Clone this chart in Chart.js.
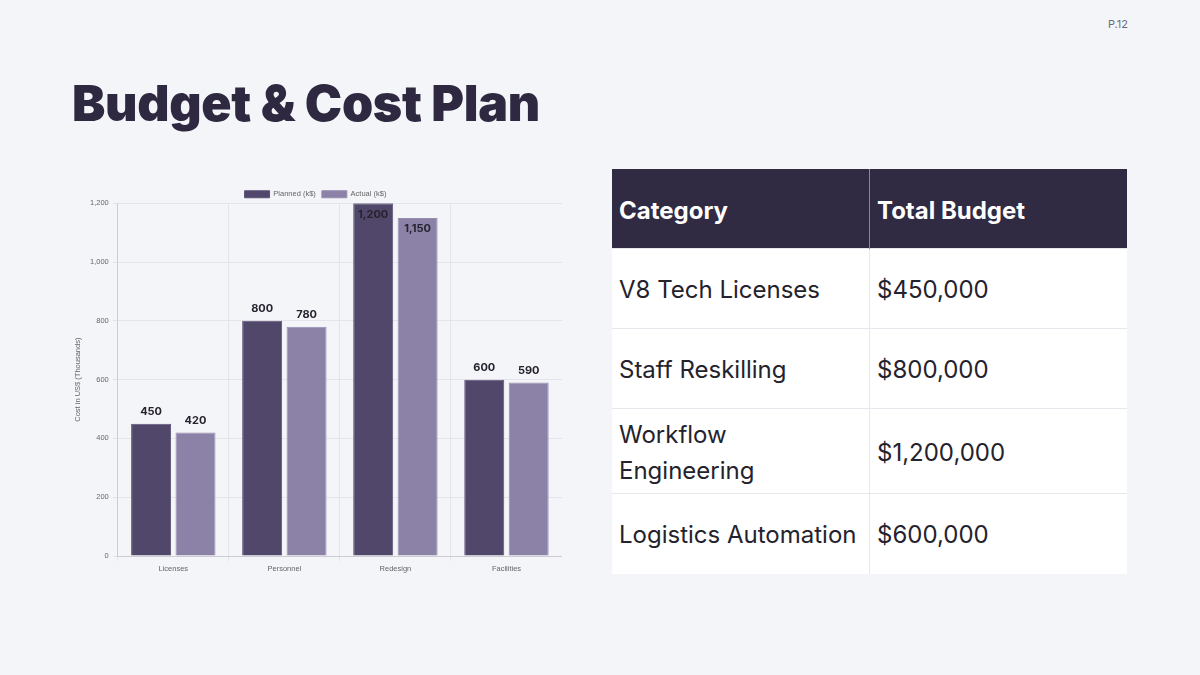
<!DOCTYPE html>
<html>
<head>
<meta charset="utf-8">
<script src="https://cdn.jsdelivr.net/npm/chart.js@4.4.1/dist/chart.umd.min.js"></script>
<style>
  html, body { margin:0; padding:0; }
  body { width:1200px; height:675px; background:#f4f5f9; position:relative; overflow:hidden; font-family:Inter, "Noto Sans", sans-serif; }
  #pg { position:absolute; right:72px; top:17px; font-size:11px; color:#6b6b78; font-family:Inter, sans-serif; }
  h1 { position:absolute; left:72px; top:73px; margin:0; font-family:Inter, sans-serif; font-weight:900; font-size:50px; letter-spacing:-0.3px; color:#2e2940; line-height:1.2; }
  #chartBox { position:absolute; left:69px; top:182px; width:493px; height:394px; }
  table { position:absolute; left:612px; top:169px; width:515px; border-collapse:collapse; font-family:Inter, sans-serif; }
  th { background:#302a43; color:#fff; font-weight:700; font-size:24px; text-align:left; padding:3px 7px 0 7px; height:76px; }
  th + th { border-left:1px solid #8b86a0; }
  td { background:#fff; color:#24222c; font-size:24px; padding:3px 7px 0 7px; line-height:36px; border-top:1px solid #e6e8ee; }
  td + td { border-left:1px solid #e6e8ee; }
  td.c1 { width:243px; }
</style>
</head>
<body>
<div id="pg">P.12</div>
<h1>Budget &amp; Cost Plan</h1>
<div id="chartBox"><canvas id="c"></canvas></div>
<table id="tbl"></table>
<script>
const categories = ["Licenses", "Personnel", "Redesign", "Facilities"];
const plannedValues = [450, 800, 1200, 600];
const actualValues = [420, 780, 1150, 590];
const seriesLabels = ["Planned (k$)", "Actual (k$)"];

const tableHeaders = ["Category", "Total Budget"];
const tableCategories = ["V8 Tech Licenses", "Staff Reskilling", "Workflow\nEngineering", "Logistics Automation"];
const tableBudgets = ["$450,000", "$800,000", "$1,200,000", "$600,000"];
const rowHeights = [80, 80, 85, 80];

// build table
const tbl = document.getElementById('tbl');
let html = '<tr>' + tableHeaders.map(h => '<th>' + h + '</th>').join('') + '</tr>';
tableCategories.forEach((c, i) => {
  html += '<tr style="height:' + rowHeights[i] + 'px"><td class="c1">' + c.replace('\n', '<br>') + '</td><td>' + tableBudgets[i] + '</td></tr>';
});
tbl.innerHTML = html;

const valueLabels = {
  id: 'valueLabels',
  afterDatasetsDraw(chart) {
    const ctx = chart.ctx;
    const top = chart.chartArea.top;
    ctx.save();
    ctx.font = 'bold 11px Inter, sans-serif';
    ctx.fillStyle = '#26232f';
    ctx.textAlign = 'center';
    ctx.textBaseline = 'middle';
    chart.data.datasets.forEach((ds, di) => {
      chart.getDatasetMeta(di).data.forEach((bar, i) => {
        const v = ds.data[i];
        let y = bar.y - 12;
        if (y - 7 < top) y = bar.y + 11;
        ctx.fillText(v.toLocaleString('en-US'), bar.x, y);
      });
    });
    ctx.restore();
  }
};

Chart.defaults.font.family = '"Liberation Sans", Arial, sans-serif';
Chart.defaults.font.size = 7.5;
Chart.defaults.color = '#666';

new Chart(document.getElementById('c'), {
  type: 'bar',
  data: {
    labels: categories,
    datasets: [
      { label: seriesLabels[0], data: plannedValues, backgroundColor: '#51476a', borderColor: '#5c5275', borderWidth: 1 },
      { label: seriesLabels[1], data: actualValues, backgroundColor: '#8c82a7', borderColor: '#978db0', borderWidth: 1 }
    ]
  },
  options: {
    responsive: true,
    maintainAspectRatio: false,
    animation: false,
    layout: { padding: { top: 2.5, right: 0, bottom: 0, left: 0 } },
    plugins: {
      legend: { maxHeight: 18.8, labels: { boxWidth: 25, boxHeight: 7, padding: 6, font: { size: 7.5 } } },
      tooltip: { enabled: false }
    },
    scales: {
      x: {
        grid: { color: '#e4e4ea', tickLength: 5 },
        ticks: { font: { size: 7.5 }, padding: 3 }
      },
      y: {
        min: 0, max: 1200,
        ticks: { stepSize: 200, font: { size: 7.5 }, padding: 4 },
        grid: { color: '#e4e4ea', tickLength: 5 },
        title: { display: true, text: 'Cost in US$ (Thousands)', font: { size: 7.5 }, padding: 4 }
      }
    }
  },
  plugins: [valueLabels]
});
</script>
</body>
</html>
